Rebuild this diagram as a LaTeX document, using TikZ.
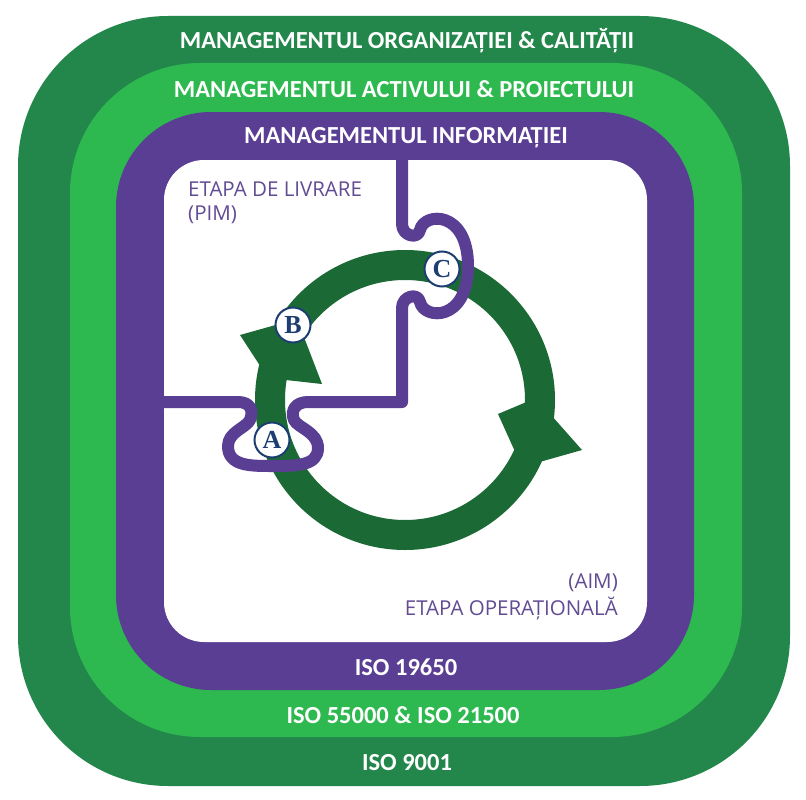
\documentclass[tikz,border=0pt]{standalone}
\usepackage{fontspec}
\setmainfont{Carlito}
\newfontfamily\phasefont{Open Sans}
\newfontfamily\markfont{Liberation Serif}
\usepackage{tikz}
\definecolor{qualitygreen}{RGB}{35,135,76}
\definecolor{assetgreen}{RGB}{45,185,80}
\definecolor{infopurple}{RGB}{90,62,148}
\definecolor{cyclegreen}{RGB}{27,106,53}
\definecolor{phasepurple}{RGB}{98,76,148}
\definecolor{markblue}{RGB}{28,62,112}
\def\qualityband{(18,16) rectangle (790,786)}
\def\assetband{(70,63) rectangle (742,737)}
\def\infoband{(116,112) rectangle (694,690)}
\def\workfield{(164,160) rectangle (647,642)}
\def\ringpath{(405,400) circle (135)}

\begin{document}
\begin{tikzpicture}[x=1pt,y=-1pt,
	headline/.style={font=\bfseries\fontsize{24.5}{28}\selectfont,text=white,inner sep=0pt},
	phase/.style={font=\phasefont\fontsize{20.5}{24}\selectfont,text=phasepurple,inner sep=0pt},
	stagemark/.style={circle,draw=markblue,line width=2pt,fill=white,minimum size=35pt,inner sep=0pt,
		font=\markfont\bfseries\fontsize{26}{28}\selectfont,text=markblue}]
				\useasboundingbox (0,0) rectangle (806,800);
				
				%nested bands
				\fill [qualitygreen, rounded corners=150pt] \qualityband;
				\fill [assetgreen, rounded corners=130pt] \assetband;
				\fill [infopurple, rounded corners=95pt] \infoband;
				\fill [white, rounded corners=40pt] \workfield;
				
				%the cycle with its two arrow heads
				\draw [cyclegreen, line width=30pt] \ringpath;
				\fill [cyclegreen] (297,319) -- (240,335) -- (268,378) -- (322,384) -- cycle;
				\fill [cyclegreen] (522,467) -- (582,450) -- (536,398) -- (498,414) -- cycle;
				
				%divider between the two stages
				\draw [infopurple, line width=12pt, line join=round] (158,402) -- (238,402)
					.. controls (250,402) and (254,410) .. (250,420)
					.. controls (246,428) and (228,432) .. (228,446)
					.. controls (228,466) and (250,466) .. (272,466)
					.. controls (296,466) and (318,466) .. (318,448)
					.. controls (318,432) and (298,428) .. (294,420)
					.. controls (290,410) and (296,402) .. (308,402)
					-- (402,402) -- (402,308)
					.. controls (402,296) and (418,292) .. (420,302)
					.. controls (424,320) and (468,322) .. (468,266)
					.. controls (468,210) and (424,212) .. (420,230)
					.. controls (418,240) and (402,236) .. (402,224)
					-- (402,155);
				
				\node [stagemark] (A) at (272,440) {A};
				\node [stagemark] (B) at (293,325) {B};
				\node [stagemark] (C) at (442,269) {C};
				
				\node [headline, anchor=base] (quality) at (407,48.5) {MANAGEMENTUL ORGANIZAȚIEI \& CALITĂȚII};
				\node [headline, anchor=base] (asset) at (404,97) {MANAGEMENTUL ACTIVULUI \& PROIECTULUI};
				\node [headline, anchor=base] (info) at (406,143) {MANAGEMENTUL INFORMAȚIEI};
				\node [headline, anchor=base] (iso19650) at (406,675) {ISO 19650};
				\node [headline, anchor=base] (iso55000) at (403,723) {ISO 55000 \& ISO 21500};
				\node [headline, anchor=base] (iso9001) at (407,770) {ISO 9001};
				
				\node [phase, anchor=base west] (delivery) at (188,196) {ETAPA DE LIVRARE};
				\node [phase, anchor=base west] (pim) at (188,220) {(PIM)};
				\node [phase, anchor=base east] (aim) at (618,588) {(AIM)};
				\node [phase, anchor=base east] (operation) at (618,615) {ETAPA OPERAȚIONALĂ};
			\end{tikzpicture}
\end{document}
